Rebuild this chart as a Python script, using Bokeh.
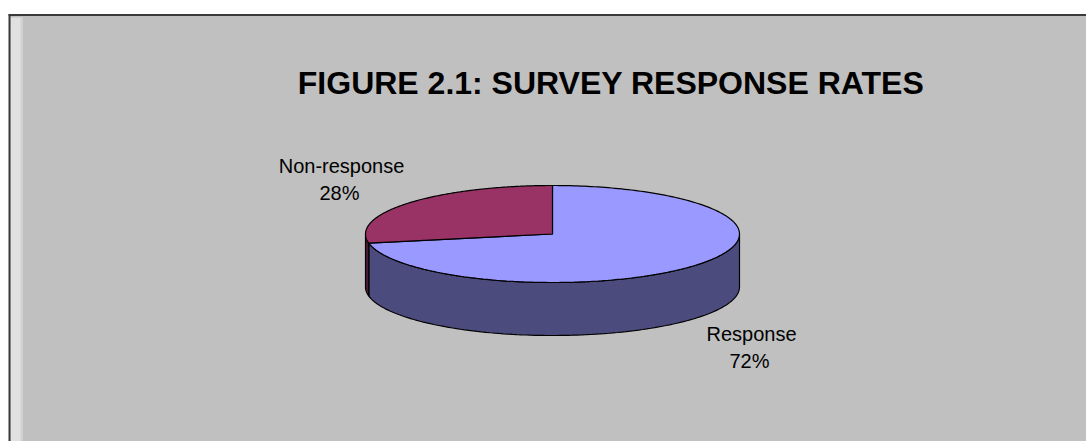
import numpy as np
from bokeh.plotting import figure
from bokeh.models import Range1d
from bokeh.core.properties import value
from bokeh.embed import file_html
from bokeh.resources import INLINE

# ---- data ----
categories = ["Response", "Non-response"]
percents = [72, 28]
top_colors = ["#9999FF", "#993366"]
side_colors = ["#4B4B7E", "#4C1A33"]
title_text = "FIGURE 2.1:  SURVEY RESPONSE RATES"

# ---- layout (pixel-like data space, y grows downward) ----
W, H = 1086, 441
p = figure(width=W, height=H, output_backend="svg", toolbar_location=None,
           x_range=Range1d(0, W), y_range=Range1d(H, 0), min_border=0,
           background_fill_color="white", border_fill_color="white",
           outline_line_color=None)
p.axis.visible = False
p.xgrid.visible = False
p.ygrid.visible = False

# chart area frame
p.quad(left=[9], right=[W], top=[15], bottom=[H], fill_color="#C0C0C0", line_color=None)
p.quad(left=[10], right=[22], top=[17], bottom=[H], fill_color="#E1E1E1", line_color=None)
p.quad(left=[20], right=[22], top=[17], bottom=[H], fill_color="#D2D2D2", line_color=None)
p.segment(x0=[8], y0=[14.5], x1=[W], y1=[14.5], line_color="#3A3A3A", line_width=2)
p.segment(x0=[9], y0=[14], x1=[9], y1=[H], line_color="#3A3A3A", line_width=2)

# ---- pie geometry ----
cx, cy = 552, 233.5
a, b = 187, 48.5
depth = 53

def pt(theta_deg, dy=0.0):
    t = np.radians(theta_deg)
    return cx + a * np.cos(t), cy - b * np.sin(t) + dy

# slices: first slice starts at 12 o'clock going clockwise
starts, ends = [], []
ang = 90.0
for pc in percents:
    sweep = pc / 100 * 360
    starts.append(ang - sweep)
    ends.append(ang)
    ang -= sweep

# side faces (front half: angles between 180 and 360)
side_xs, side_ys, side_cols = [], [], []
for s, e, col in zip(starts, ends, side_colors):
    s_n = s % 360
    e_n = s_n + (e - s)
    segs = []
    for off in (0, 360):
        lo = max(s_n - off, 180.0)
        hi = min(e_n - off, 360.0)
        if hi > lo:
            segs.append((lo, hi))
    for lo_, hi_ in segs:
        th = np.linspace(lo_, hi_, 120)
        xt, yt = pt(th)
        xb, yb = pt(th[::-1], depth)
        side_xs.append(list(np.concatenate([xt, xb])))
        side_ys.append(list(np.concatenate([yt, yb])))
        side_cols.append(col)
p.patches(side_xs, side_ys, fill_color=side_cols, line_color="black", line_width=1.2)

# top faces
top_xs, top_ys = [], []
for s, e in zip(starts, ends):
    th = np.linspace(s, e, 240)
    x, y = pt(th)
    top_xs.append([cx] + list(x))
    top_ys.append([cy] + list(y))
p.patches(top_xs, top_ys, fill_color=top_colors, line_color="black", line_width=1.2)

# ---- labels ----
label_pos = {"Response": (751, 333), "Non-response": (341, 165)}
font = value("Liberation Sans")
for cat, pc in zip(categories, percents):
    lx, ly = label_pos[cat]
    p.text(x=[lx], y=[ly], text=[cat], text_font=font, text_font_size="20px",
           text_align="center", text_baseline="alphabetic", text_color="black")
    p.text(x=[lx - 2], y=[ly + 27], text=[f"{pc}%"], text_font=font, text_font_size="20px",
           text_align="center", text_baseline="alphabetic", text_color="black")

# title
p.text(x=[615], y=[82], text=[title_text], text_font=font, text_font_size="32px",
       text_font_style="bold", text_align="center", text_baseline="alphabetic",
       text_color="black")

open("out.html", "w").write(file_html(p, INLINE))
